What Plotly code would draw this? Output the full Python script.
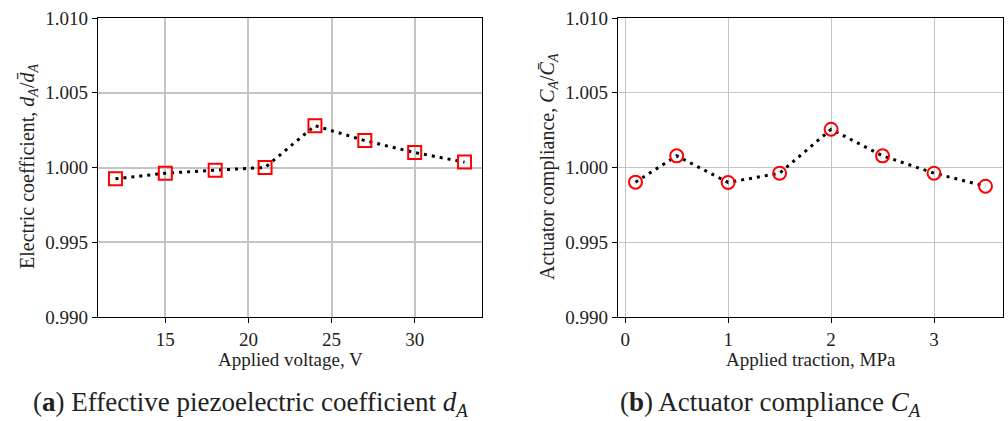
import plotly.graph_objects as go

# Data
voltage = [12, 15, 18, 21, 24, 27, 30, 33]
d_ratio = [0.99924, 0.99962, 0.99982, 1.00000, 1.00280, 1.00180, 1.00100, 1.00036]

traction = [0.1, 0.5, 1.0, 1.5, 2.0, 2.5, 3.0, 3.5]
c_ratio = [0.99902, 1.00078, 0.99900, 0.99962, 1.00256, 1.00078, 0.99962, 0.99875]

y_ticks = [0.990, 0.995, 1.000, 1.005, 1.010]
y_ticktext = ["0.990", "0.995", "1.000", "1.005", "1.010"]
x1_ticks = [15, 20, 25, 30]
x2_ticks = [0, 1, 2, 3]

FONT = "Liberation Serif"
W, H = 1008, 421

fig = go.Figure()

fig.add_trace(go.Scatter(
    x=voltage, y=d_ratio, mode="lines+markers", xaxis="x", yaxis="y",
    line=dict(color="black", width=3, dash="3px,5px"),
    marker=dict(symbol="square-open", size=13, color="red", line=dict(width=2, color="red")),
    showlegend=False,
))
fig.add_trace(go.Scatter(
    x=traction, y=c_ratio, mode="lines+markers", xaxis="x2", yaxis="y2",
    line=dict(color="black", width=3, dash="3px,5px"),
    marker=dict(symbol="circle-open", size=13, color="red", line=dict(width=2, color="red")),
    showlegend=False,
))

ydom = [1 - 317 / H, 1 - 18 / H]
axis_common = dict(
    showline=True, linecolor="black", linewidth=1.2, mirror=True,
    ticks="outside", ticklen=5, tickcolor="black", tickwidth=1,
    gridcolor="#c4c4c4", zeroline=False, automargin=False,
    tickfont=dict(family=FONT, size=19, color="#222"),
)

fig.update_layout(
    width=W, height=H,
    margin=dict(l=0, r=0, t=0, b=0, autoexpand=False),
    paper_bgcolor="white", plot_bgcolor="white",
    xaxis=dict(domain=[98 / W, 482 / W], range=[10.95, 34.05], tickvals=x1_ticks,
               anchor="y", gridwidth=1.8, **axis_common),
    yaxis=dict(domain=ydom, range=[0.990, 1.010], tickvals=y_ticks, ticktext=y_ticktext,
               anchor="x", gridwidth=1.8, **axis_common),
    xaxis2=dict(domain=[618 / W, 1003 / W], range=[-0.07, 3.67], tickvals=x2_ticks,
                anchor="y2", gridwidth=1, **axis_common),
    yaxis2=dict(domain=ydom, range=[0.990, 1.010], tickvals=y_ticks, ticktext=y_ticktext,
                anchor="x2", gridwidth=1, **axis_common),
)

def ann(text, x, y, size, angle=0):
    fig.add_annotation(text=text, x=x / W, y=1 - y / H, xref="paper", yref="paper",
                       showarrow=False, textangle=angle, xanchor="center", yanchor="middle",
                       font=dict(family=FONT, size=size, color="#222"))

ann("Electric coefficient, <i>d<sub>A</sub></i>/<i>d\u0304<sub>A</sub></i>", 28, 167, 20, -90)
ann("Actuator compliance, <i>C<sub>A</sub></i>/<i>C\u0304<sub>A</sub></i>", 548, 167, 20, -90)
ann("Applied voltage, V", 290, 359, 19)
ann("Applied traction, MPa", 811, 359, 19)
ann("(<b>a</b>) Effective piezoelectric coefficient <i>d<sub>A</sub></i>", 250, 404, 27)
ann("(<b>b</b>) Actuator compliance <i>C<sub>A</sub></i>", 770, 404, 27)

fig.write_html("out.html")
